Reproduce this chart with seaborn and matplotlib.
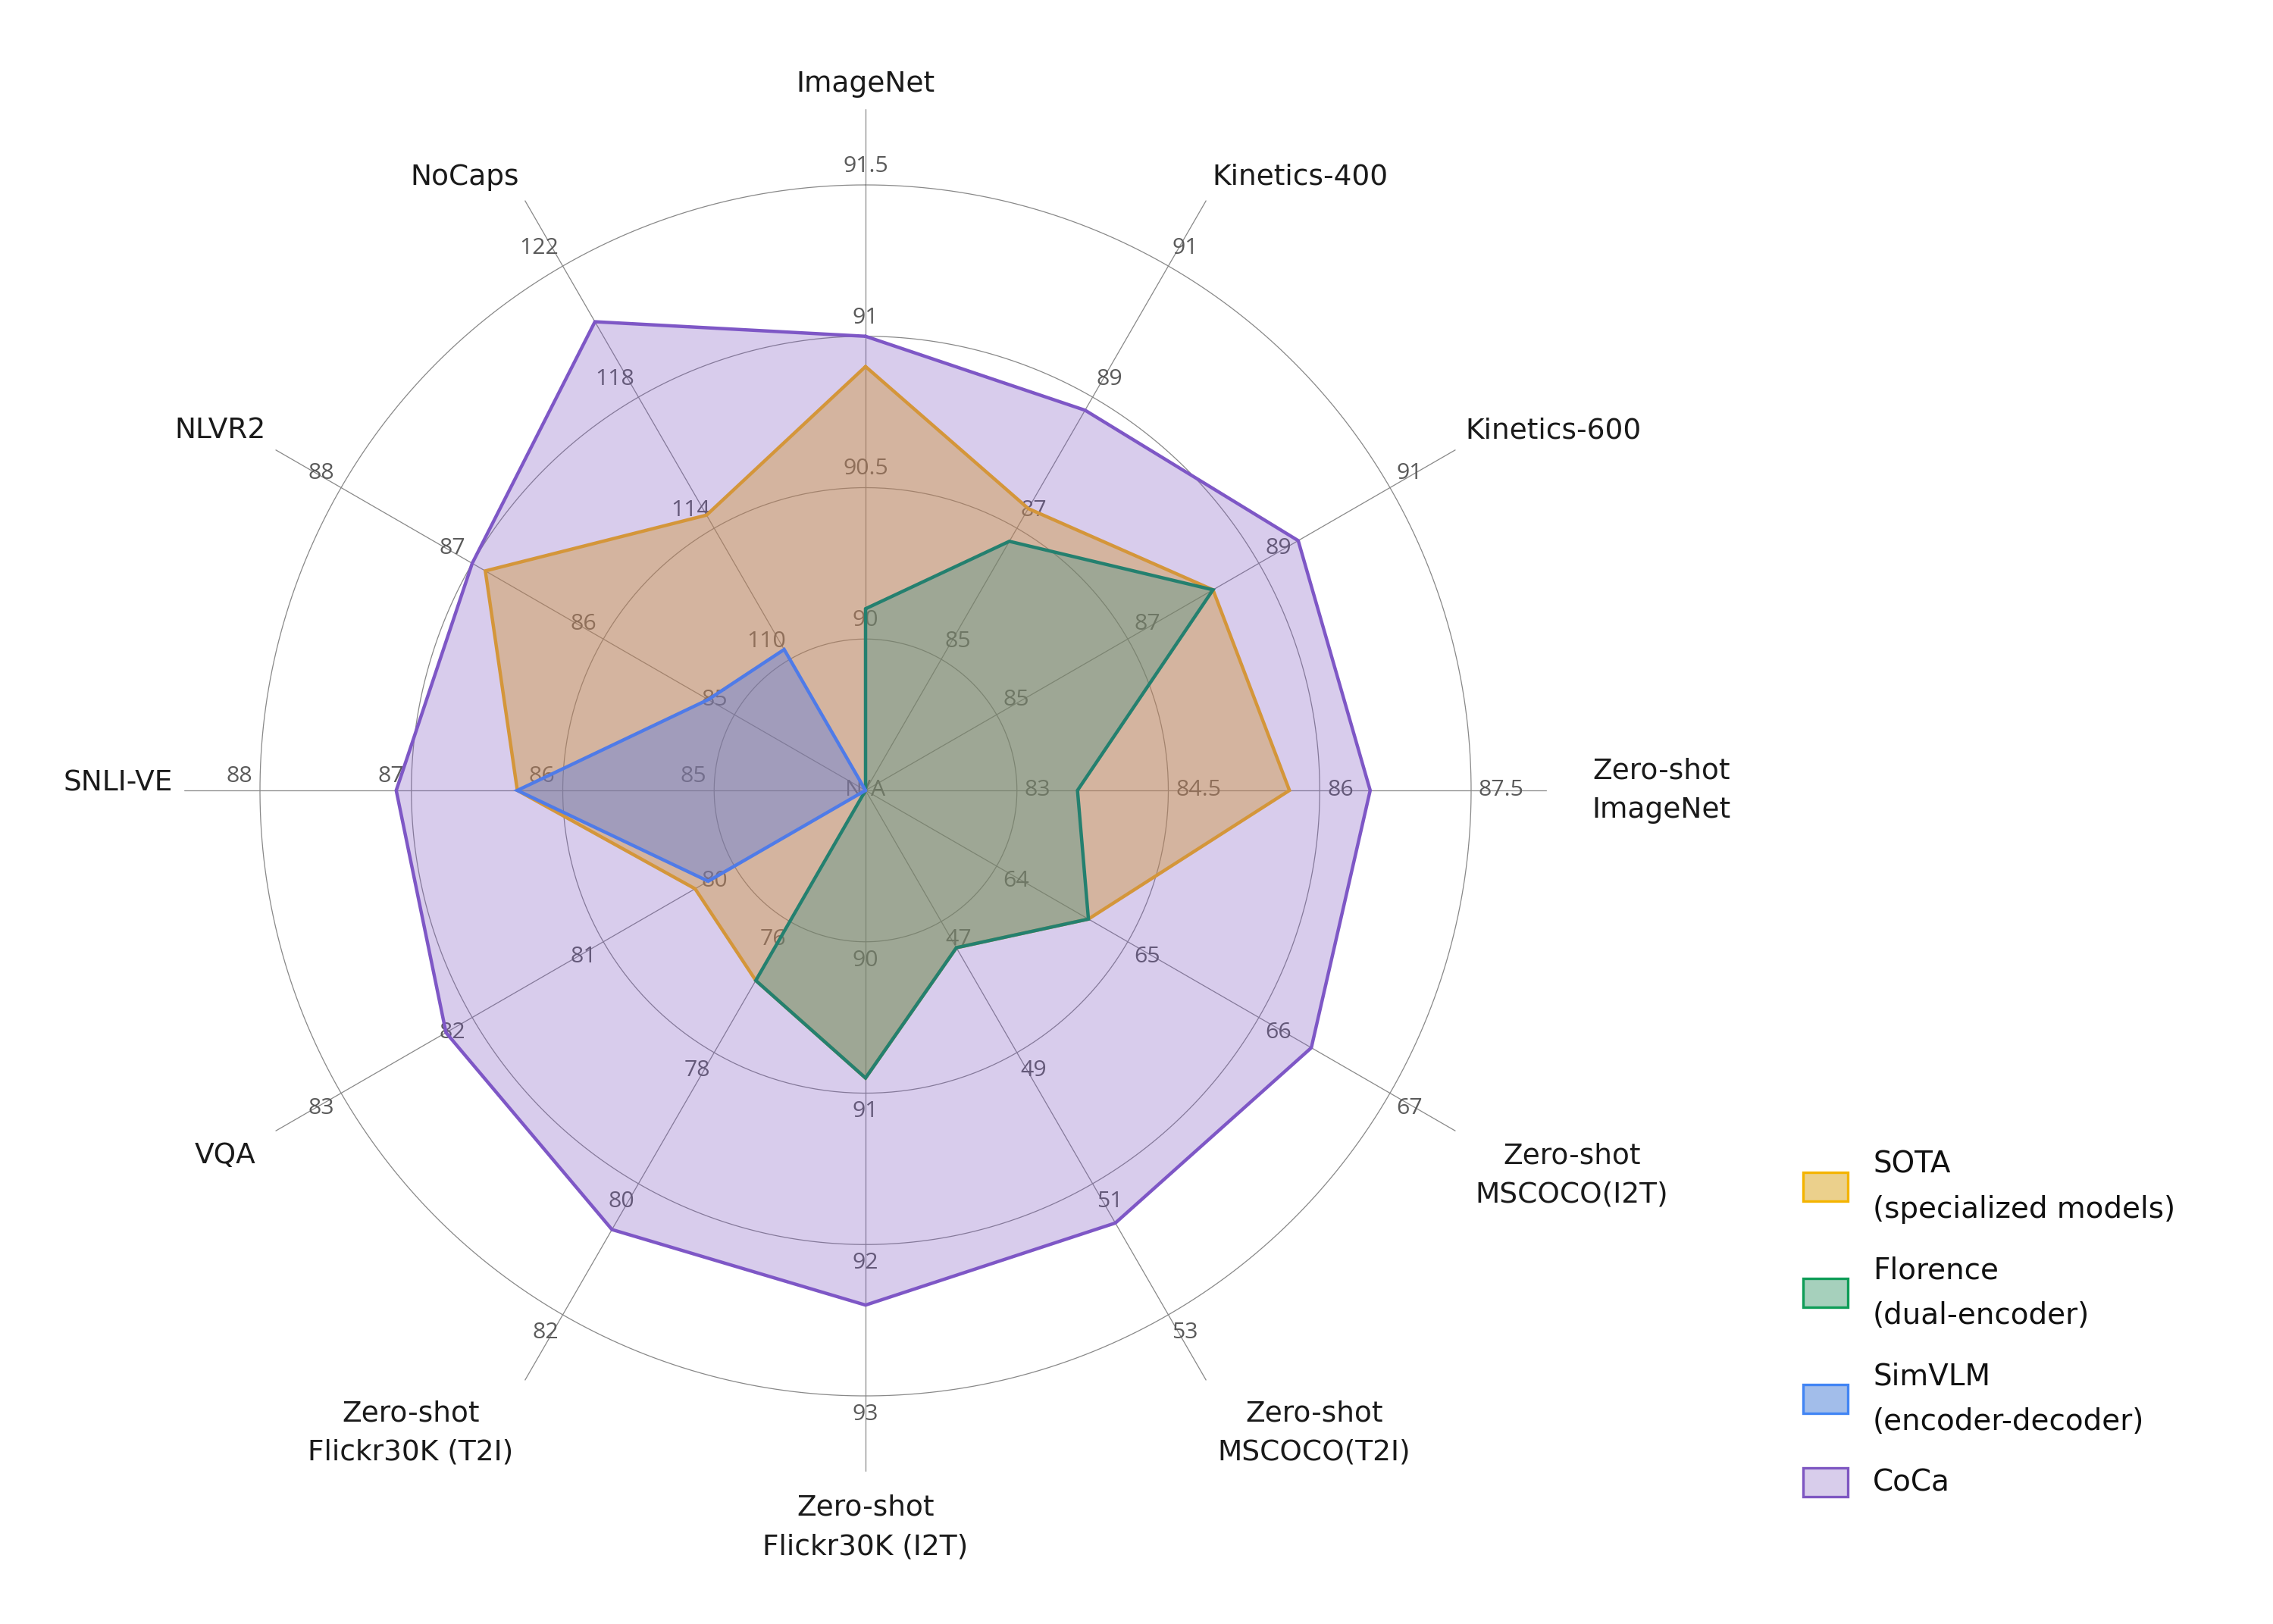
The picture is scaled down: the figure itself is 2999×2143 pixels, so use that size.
import numpy as np
import matplotlib
matplotlib.use("Agg")
import matplotlib.pyplot as plt
from matplotlib.patches import Rectangle
import seaborn as sns

# ---- data ----
tasks = ["ImageNet", "Kinetics-400", "Kinetics-600", "Zero-shot\nImageNet",
         "Zero-shot\nMSCOCO(I2T)", "Zero-shot\nMSCOCO(T2I)", "Zero-shot\nFlickr30K (I2T)",
         "Zero-shot\nFlickr30K (T2I)", "VQA", "SNLI-VE", "NLVR2", "NoCaps"]

# every axis has its own scale: value at the centre and step between rings
axis_base = [89.5, 83, 83, 81.5, 63, 45, 89, 74, 79, 84, 84, 106]
axis_step = [0.5, 2, 2, 1.5, 1, 2, 1, 2, 1, 1, 1, 4]

sota = [90.9, 87.3, 88.3, 85.7, 64.7, 47.4, 90.9, 76.9, 80.3, 86.3, 86.9, 114.4]
florence = [90.1, 86.8, 88.3, 83.6, 64.7, 47.4, 90.9, 76.9, None, None, None, None]
simvlm = [None, None, None, None, None, None, None, None, 80.2, 86.3, 85.2, 110.3]
coca = [91.0, 88.8, 89.6, 86.5, 66.4, 51.6, 92.4, 80.7, 82.2, 87.1, 87.0, 120.3]

model_names = ["SOTA\n(specialized models)", "Florence\n(dual-encoder)",
               "SimVLM\n(encoder-decoder)", "CoCa"]

# ---- style ----
sns.set_theme(style="white")
plt.rcParams["font.family"] = ["DejaVu Sans"]
tick_font = ["Open Sans", "DejaVu Sans"]

line_cols = sns.color_palette(["#d4963a", "#24806f", "#4f7be8", "#7e57c6"])
fill_cols = ["#d0922c", "#248a7f", "#3c6ef5", "#7e57c2"]
fill_alpha = [0.40, 0.30, 0.33, 0.30]
legend_face = ["#ebd08c", "#a6d0bc", "#a2bdea", "#d8cdeb"]
legend_edge = ["#f4b400", "#0f9d58", "#4285f4", "#7e57c2"]

W, H, DPI = 2999, 2143, 200
fig = plt.figure(figsize=(W / DPI, H / DPI), dpi=DPI)

R_PX = 799.0          # radius of the outer ring in pixels
cx, cy = 1142, 1043   # centre of the radar in pixels
lim = 4.5             # spokes run past the 4th ring
half = lim / 4 * R_PX
ax = fig.add_axes([(cx - half) / W, (H - cy - half) / H, 2 * half / W, 2 * half / H],
                  projection="polar")
ax.set_theta_offset(np.pi / 2)
ax.set_theta_direction(-1)
ax.set_ylim(0, lim)
ax.axis("off")

n = len(tasks)
theta = np.arange(n) * 2 * np.pi / n
px2pt = 72 / DPI

grid_col = "#888888"
t = np.linspace(0, 2 * np.pi, 400)
for k in range(1, 5):
    ax.plot(t, np.full_like(t, k), color=grid_col, lw=0.45, zorder=1)
for th in theta:
    ax.plot([th, th], [0, lim], color=grid_col, lw=0.45, zorder=1)


def align(th):
    a = np.pi / 2 - th
    c, s = np.cos(a), np.sin(a)
    ha = "left" if c > 0.1 else ("right" if c < -0.1 else "center")
    va = "bottom" if s > 0.1 else ("top" if s < -0.1 else "center")
    return c, s, ha, va


# tick labels on each spoke (sit under the fills)
for i, th in enumerate(theta):
    c, s, ha, va = align(th)
    dy = 0
    if ha == "right" and va == "center":
        va, dy = "bottom", 4
    for k in range(1, 5):
        val = axis_base[i] + k * axis_step[i]
        pad = 10
        ax.annotate(f"{val:g}", xy=(th, k),
                    xytext=(c * pad * px2pt, (s * pad + dy) * px2pt),
                    textcoords="offset points", ha=ha, va=va, fontsize=10.9,
                    family=tick_font, color="#5a5a5a", zorder=1.5, annotation_clip=False)
ax.text(0, 0, "N/A", ha="center", va="center", fontsize=10.9, family=tick_font,
        color="#5a5a5a", zorder=1.5)

# category labels
for i, th in enumerate(theta):
    c, s, ha, va = align(th)
    pad = 15
    if va == "top":
        pad = 30
    if ha == "left" and va == "center":
        pad = 60
    if ha == "right" and va == "center":
        va = "baseline"
    ax.annotate(tasks[i], xy=(th, lim), xytext=(c * pad * px2pt, s * pad * px2pt),
                textcoords="offset points", ha=ha, va=va, fontsize=13.5,
                color="#1a1a1a", multialignment="center", linespacing=1.55,
                annotation_clip=False)


def to_r(vals):
    r = []
    for i, v in enumerate(vals):
        r.append(0.0 if v is None else (v - axis_base[i]) / axis_step[i])
    return np.array(r + r[:1])


th_closed = np.append(theta, theta[0])
series = [sota, florence, simvlm, coca]
order = [3, 0, 1, 2]  # CoCa at the bottom
for z, j in enumerate(order):
    r = to_r(series[j])
    ax.fill(th_closed, r, color=fill_cols[j], alpha=fill_alpha[j], lw=0, zorder=2 + z)
    ax.plot(th_closed, r, color=line_cols[j], lw=1.6, zorder=2.5 + z, solid_joinstyle="miter")

# legend drawn by hand so the swatch sits in the middle of two-line labels
y = 1566
for j, name in enumerate(model_names):
    nl = name.count("\n") + 1
    if j > 0:
        prev = model_names[j - 1].count("\n") + 1
        y += 30 * (prev + nl) + 20
    rect = Rectangle((2379 / W, 1 - (y + 19) / H), 59 / W, 38 / H, transform=fig.transFigure,
                     facecolor=legend_face[j], edgecolor=legend_edge[j], lw=1.2)
    fig.add_artist(rect)
    fig.text(2471 / W, 1 - y / H, name, ha="left", va="center", fontsize=14,
             color="#111111", linespacing=1.72)

fig.savefig("out.png", dpi=DPI, facecolor="white")
